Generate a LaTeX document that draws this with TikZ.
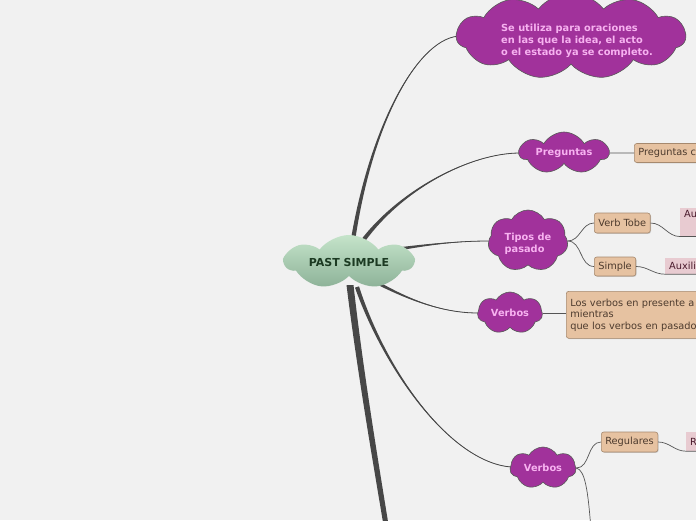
\documentclass[tikz,border=0pt]{standalone}
\usepackage{fontspec}
\setmainfont{DejaVu Sans}
\usetikzlibrary{shapes.symbols,calc,shadows}
\definecolor{bg}{HTML}{F1F1F1}
\definecolor{branchc}{HTML}{474747}
\definecolor{connc}{HTML}{555555}
\definecolor{purp}{HTML}{A1329B}
\definecolor{purptext}{HTML}{F7B2F0}
\definecolor{tanfill}{HTML}{E6C2A1}
\definecolor{tanborder}{HTML}{A6896E}
\definecolor{tantext}{HTML}{4D3B2E}
\definecolor{pinkfill}{HTML}{E8CBD1}
\definecolor{pinktext}{HTML}{4A1A2C}
\definecolor{greentop}{HTML}{C5E4CA}
\definecolor{greenbot}{HTML}{8DB298}
\definecolor{greentext}{HTML}{1C3A22}
\newcommand\branchshape[5]{%
  \fill[branchc] ($(#1)+(#5)$) .. controls ($(#2)+0.4*(#5)$) and (#3) .. (#4)
     .. controls (#3) and ($(#2)-0.4*(#5)$) .. ($(#1)-(#5)$) -- cycle;
  \draw[branchc, line width=0.8pt] (#1) .. controls (#2) and (#3) .. (#4);}
\newcommand\lowered[2]{\raisebox{-#1}[\height][\depth]{#2}}
\tikzset{
  cloudn/.style={cloud, cloud puffs=7, cloud puff arc=120, cloud ignores aspect,
    draw=black!65, line width=0.6pt, fill=purp, text=purptext,
    font=\bfseries\fontsize{9.8}{12}\selectfont, align=center, inner sep=0pt},
  centralcloud/.style={cloud, cloud puffs=7, cloud puff arc=105, cloud ignores aspect,
    top color=greentop, bottom color=greenbot, draw=none, text=greentext,
    font=\bfseries\fontsize{11}{13}\selectfont, inner sep=0pt},
  tanbox/.style={draw=tanborder, line width=0.6pt, fill=tanfill, rounded corners=2.5pt,
    text=tantext, font=\fontsize{9.8}{11.5}\selectfont, inner xsep=4pt, inner ysep=2pt,
    drop shadow={shadow xshift=0.8pt, shadow yshift=-0.8pt, opacity=0.35}},
  pinkbox/.style={fill=pinkfill, text=pinktext, font=\fontsize{9.8}{11.5}\selectfont,
    inner xsep=4pt, inner ysep=2pt, align=left},
  conn/.style={draw=connc, line width=0.7pt},
}
\begin{document}
\begin{tikzpicture}[x=1pt,y=-1pt]
\fill[bg] (0,0) rectangle (696,520);
\useasboundingbox (0,0) rectangle (696,520);
\clip (0,0) rectangle (696,520);

\coordinate (cA) at (353,240);
\coordinate (cB) at (362,242);
\coordinate (cC) at (392,250);
\coordinate (cD) at (372,280);
\coordinate (cE) at (357,287);
\coordinate (tipTop) at (461,36);
\coordinate (tipPreg) at (520,153);
\coordinate (tipTipos) at (488,241);
\coordinate (tipVm) at (478,313);
\coordinate (tipVl) at (511,467);

% branches
\branchshape{cA}{372,120}{420,36}{tipTop}{2.2,0}
\branchshape{cB}{400,190}{470,153}{tipPreg}{1.5,1.5}
\branchshape{cC}{430,244}{460,241}{tipTipos}{0,1.8}
\branchshape{cD}{405,298}{440,313}{tipVm}{-0.8,1.6}
\branchshape{cE}{385,370}{450,462}{tipVl}{2,-0.6}
\fill[branchc] (346.5,285) .. controls (357,370) and (372.5,460) .. (386,540)
   -- (391,540) .. controls (378,460) and (363,370) .. (353.5,285) -- cycle;

% central
\node[centralcloud, minimum width=128pt, minimum height=54pt] (center) at (349,262) {PAST SIMPLE};

% purple clouds
\node[cloudn, cloud puffs=11, cloud puff arc=105, align=left, minimum width=222pt, minimum height=86pt] (top) at (571,36)
  {\hspace*{12pt}\lowered{5pt}{\begin{tabular}{@{}l@{}}Se utiliza para oraciones\\en las que la idea, el acto\\o el estado ya se completo.\end{tabular}}};
\node[cloudn, minimum width=89pt, minimum height=42pt] (pqc) at (564,153) {Preguntas};
\node[cloudn, minimum width=80pt, minimum height=62pt] (tipos) at (528,241)
  {\lowered{3pt}{\begin{tabular}{@{}l@{}}Tipos de\\pasado\end{tabular}}};
\node[cloudn, minimum width=65pt, minimum height=42pt] (vm) at (510,313) {Verbos};
\node[cloudn, minimum width=66pt, minimum height=42pt] (vl) at (543,468) {Verbos};

% boxes
\node[tanbox, anchor=west, minimum height=19pt, text width=90pt, align=left] (pq) at (634,153) {Preguntas c};
\node[tanbox, anchor=west, minimum height=20pt] (vt) at (594,223) {Verb Tobe};
\node[tanbox, anchor=west, minimum height=19pt] (simple) at (594,266.5) {Simple};
\node[tanbox, anchor=north west, text width=150pt, align=left, minimum height=47pt] (vbox) at (566,291)
  {Los verbos en presente a\\mientras\\que los verbos en pasado};
\node[tanbox, anchor=west, minimum height=20pt] (reg) at (601,442) {Regulares};

\node[pinkbox, anchor=north west, text width=40pt, text depth=17pt] (au) at (680,208) {Au};
\node[pinkbox, anchor=west, text width=40pt, minimum height=16pt] (aux) at (665,266) {Auxili};
\node[pinkbox, anchor=west, text width=30pt, minimum height=19pt] (rr) at (686,441.5) {R};

% thin connectors
\draw[conn] (pqc.east) -- (pq.west);
\draw[conn] (tipos.east) to[out=0,in=180] (vt.west);
\draw[conn] (tipos.east) to[out=0,in=180] (simple.west);
\draw[conn] (vt.east) to[out=0,in=180] (au.south west) -- (au.south east);
\draw[conn] (simple.east) to[out=0,in=180] (aux.south west) -- (aux.south east);
\draw[conn] (vm.east) -- (vbox.west |- vm.east);
\draw[conn] (vl.east) to[out=0,in=180] (reg.west);
\draw[conn] (reg.east) to[out=0,in=180] (rr.south west) -- (rr.south east);
\coordinate (vlDown) at (591,530);
\draw[conn] (vl.east) .. controls (585,470) and (588,490) .. (vlDown);
\end{tikzpicture}
\end{document}
